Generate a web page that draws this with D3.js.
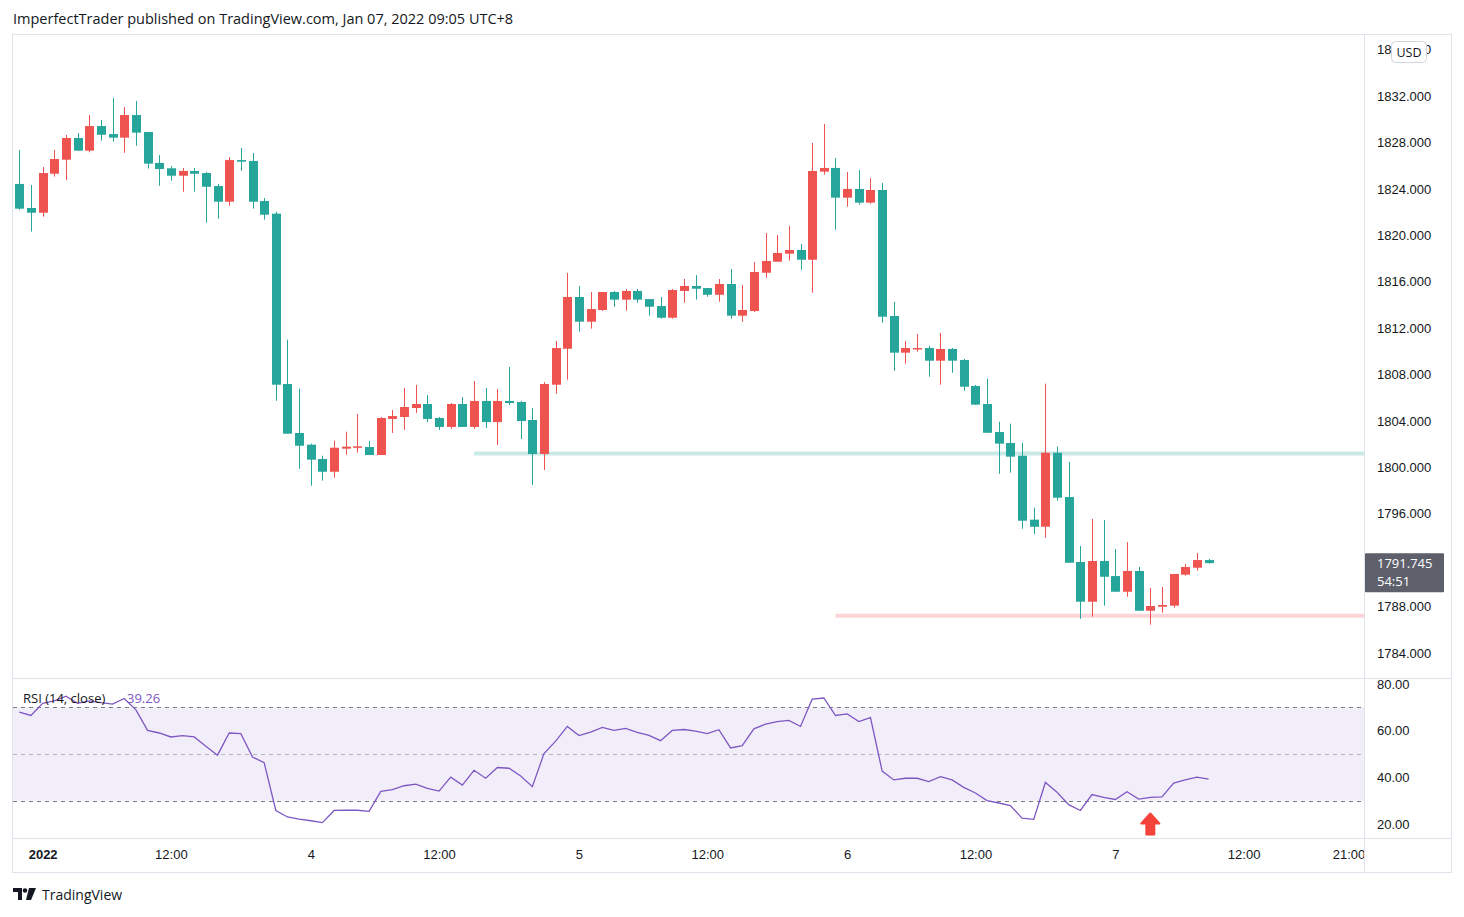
<!DOCTYPE html>
<html>
<head>
<meta charset="utf-8">
<script src="https://cdn.jsdelivr.net/npm/d3@7"></script>
<style>
  body { margin: 0; background: #fff; }
  svg { font-family: "Open Sans", Roboto, sans-serif; }
</style>
</head>
<body>
<svg class="chart"></svg>
<script>
// gold 1h candles, Jan 3 - Jan 7 2022 (UTC+8). red = up, teal = down (colours swapped like the original)
var open = [1824.42,1822.35,1821.94,1825.30,1826.51,1828.38,1827.29,1829.41,1828.72,1828.41,
  1830.36,1828.90,1826.23,1825.77,1825.13,1825.54,1825.36,1824.24,1822.89,1826.48,
  1826.40,1822.95,1821.86,1807.18,1802.96,1801.95,1800.72,1799.62,1801.61,1801.69,
  1801.75,1801.06,1804.17,1804.34,1805.11,1805.46,1804.25,1803.48,1805.46,1803.48,
  1805.72,1803.90,1805.72,1805.63,1804.08,1801.15,1807.12,1810.22,1814.68,1812.55,
  1813.56,1815.11,1814.45,1815.20,1814.50,1813.90,1812.89,1815.20,1815.63,1815.45,
  1814.87,1815.80,1813.07,1813.47,1816.77,1817.72,1818.41,1818.73,1817.89,1825.48,
  1825.80,1823.24,1823.99,1822.81,1823.90,1813.04,1809.88,1810.20,1810.28,1809.19,
  1810.20,1809.25,1807.01,1805.46,1803.04,1802.10,1801.00,1795.49,1794.88,1801.26,
  1797.44,1791.84,1788.42,1791.93,1790.63,1789.28,1791.07,1787.64,1787.99,1788.08,
  1790.75,1791.35,1792.01];
var high = [1827.35,1824.33,1825.88,1827.35,1828.64,1828.81,1830.36,1829.93,1831.83,1831.05,
  1831.57,1828.90,1826.92,1825.97,1825.80,1825.80,1825.45,1824.42,1826.74,1827.52,
  1827.08,1823.21,1822.03,1811.00,1806.78,1802.04,1801.00,1802.30,1803.07,1804.60,
  1802.27,1804.34,1804.94,1806.84,1807.10,1806.23,1804.34,1805.54,1806.06,1807.44,
  1806.84,1806.75,1808.65,1805.72,1805.11,1807.35,1810.89,1816.75,1815.63,1815.11,
  1815.11,1815.20,1815.37,1815.37,1814.50,1814.68,1815.37,1816.23,1816.57,1815.45,
  1816.23,1817.09,1815.71,1817.69,1820.19,1820.02,1820.80,1819.25,1827.95,1829.59,
  1826.66,1825.45,1825.62,1824.93,1824.50,1814.27,1810.89,1811.49,1810.46,1811.58,
  1810.28,1809.34,1807.10,1807.64,1803.93,1803.76,1802.12,1796.52,1807.21,1801.78,
  1800.46,1793.22,1795.55,1795.46,1792.96,1793.56,1791.41,1789.60,1789.69,1790.81,
  1791.67,1792.62,1792.10];
var low = [1822.20,1820.31,1821.60,1825.05,1824.76,1827.29,1827.15,1828.15,1828.06,1827.11,
  1827.72,1825.74,1824.27,1824.70,1823.75,1823.75,1821.08,1821.43,1822.55,1825.56,
  1822.29,1821.34,1805.74,1802.90,1799.88,1798.42,1798.85,1799.11,1801.09,1801.26,
  1801.06,1801.06,1802.96,1803.22,1804.68,1803.90,1803.22,1803.30,1803.48,1803.30,
  1803.39,1801.92,1805.37,1802.44,1798.48,1799.77,1806.34,1807.55,1811.69,1811.95,
  1813.47,1813.84,1813.50,1814.19,1813.07,1812.81,1812.81,1814.19,1814.45,1814.70,
  1814.27,1812.81,1812.55,1813.39,1816.34,1817.72,1817.81,1817.03,1815.05,1825.22,
  1820.48,1822.46,1822.63,1822.72,1812.46,1808.33,1808.93,1809.97,1807.81,1807.12,
  1808.15,1806.60,1805.40,1802.98,1799.45,1799.54,1794.71,1794.25,1793.94,1797.12,
  1791.78,1786.95,1787.13,1788.08,1789.28,1788.85,1787.64,1786.44,1787.47,1787.90,
  1790.66,1791.09,1791.70];
var close = [1822.29,1821.94,1825.36,1826.57,1828.38,1827.29,1829.41,1828.66,1828.41,1830.36,
  1828.84,1826.17,1825.71,1825.13,1825.54,1825.30,1824.18,1822.89,1826.48,1826.34,
  1822.89,1821.77,1807.12,1802.90,1801.86,1800.66,1799.62,1801.69,1801.78,1801.81,
  1801.06,1804.25,1804.42,1805.20,1805.46,1804.17,1803.48,1805.46,1803.48,1805.72,
  1803.90,1805.72,1805.54,1803.99,1801.15,1807.18,1810.28,1814.68,1812.55,1813.64,
  1815.11,1814.45,1815.20,1814.45,1813.84,1812.89,1815.28,1815.63,1815.39,1814.87,
  1815.80,1813.07,1813.56,1816.83,1817.78,1818.47,1818.73,1817.89,1825.54,1825.80,
  1823.24,1823.99,1822.81,1823.90,1812.98,1809.88,1810.28,1810.28,1809.19,1810.20,
  1809.19,1806.95,1805.40,1802.98,1802.04,1800.92,1795.40,1794.88,1801.26,1797.38,
  1791.78,1788.42,1791.93,1790.57,1789.28,1791.07,1787.64,1788.05,1788.14,1790.81,
  1791.41,1792.01,1791.745];
var rsi = [67.9,66.5,71.7,72.8,74.8,71.7,72.8,72.0,71.4,73.8,
  68.9,60.1,59.0,57.3,57.9,57.3,53.3,49.5,59.0,58.7,
  48.7,46.3,25.8,23.0,22.1,21.4,20.6,25.8,25.9,25.9,
  25.4,34.0,34.7,36.4,37.1,35.3,34.1,40.1,36.7,43.0,
  39.6,44.2,43.9,40.6,36.0,50.2,55.5,61.8,57.9,59.4,
  61.4,60.1,61.0,59.3,58.0,55.7,60.1,60.5,59.8,58.7,
  60.4,52.6,53.6,60.8,62.8,63.9,64.4,61.8,73.5,74.0,
  66.5,67.2,63.9,65.6,42.7,38.9,39.6,39.6,38.2,40.3,
  38.9,35.7,33.3,30.0,29.0,27.9,22.5,22.0,37.8,33.6,
  28.3,25.8,32.6,31.4,30.5,33.8,30.7,31.4,31.6,37.5,
  38.9,40.1,39.26];

var timeTicks = [2, 13, 25, 36, 48, 59, 71, 82, 94, 105, 114];
var timeLabels = ["2022", "12:00", "4", "12:00", "5", "12:00", "6", "12:00", "7", "12:00", "21:00"];
// 1792 sits under the last-price label, so it is left out
var priceTicks = [1784, 1788, 1796, 1800, 1804, 1808, 1812, 1816, 1820, 1824, 1828, 1832, 1836];
var rsiTicks = [20, 40, 60, 80];
var rsiLevels = [70, 50, 30];
var supportLevel = 1801.2, supportStart = 39;
var lowLevel = 1787.2, lowStart = 70;
var arrowBar = 97;

var width = 1464, height = 917;
var left = 13, right = 1364;
var mainTop = 35, mainBottom = 678, rsiBottom = 838;
var up = "#ef5350", down = "#26a69a", text = "#131722", grid = "#e0e3eb";

var svg = d3.select(".chart").attr("width", width).attr("height", height);

var x = d3.scaleLinear().domain([0, 102]).range([19.3, 19.3 + 102 * 11.66]);
var y = d3.scaleLinear().domain([1784, 1832]).range([653, 96]);
var ry = d3.scaleLinear().domain([20, 80]).range([824, 684]);

var defs = svg.append("defs");
defs.append("clipPath").attr("id", "clipMain").append("rect")
  .attr("x", left).attr("y", mainTop).attr("width", right - left).attr("height", mainBottom - mainTop);
defs.append("clipPath").attr("id", "clipRsi").append("rect")
  .attr("x", left).attr("y", mainBottom).attr("width", right - left).attr("height", rsiBottom - mainBottom);
defs.append("clipPath").attr("id", "clipTime").append("rect")
  .attr("x", left).attr("y", rsiBottom).attr("width", right - left).attr("height", 34);
// top price label shows only round the USD badge
var ct = defs.append("clipPath").attr("id", "clipTop");
ct.append("rect").attr("x", right).attr("y", 40).attr("width", 27).attr("height", 22);
ct.append("rect").attr("x", 1427).attr("y", 40).attr("width", 24).attr("height", 22);

// header
svg.append("text").attr("x", 13).attr("y", 24).attr("font-size", 14.5).attr("fill", text)
  .text("ImperfectTrader published on TradingView.com, Jan 07, 2022 09:05 UTC+8");

// frame
svg.append("rect").attr("x", 12.5).attr("y", 34.5).attr("width", 1439).attr("height", 838)
  .attr("fill", "none").attr("stroke", grid);
svg.append("line").attr("x1", right + 0.5).attr("x2", right + 0.5).attr("y1", 34).attr("y2", 872).attr("stroke", grid);
svg.append("line").attr("x1", 12).attr("x2", 1451).attr("y1", mainBottom + 0.5).attr("y2", mainBottom + 0.5).attr("stroke", grid);
svg.append("line").attr("x1", 12).attr("x2", 1451).attr("y1", rsiBottom + 0.5).attr("y2", rsiBottom + 0.5).attr("stroke", grid);

// main pane
var main = svg.append("g").attr("clip-path", "url(#clipMain)");

main.append("line")
  .attr("x1", x(supportStart)).attr("x2", right)
  .attr("y1", y(supportLevel)).attr("y2", y(supportLevel))
  .attr("stroke", "#26a69a").attr("stroke-opacity", 0.25).attr("stroke-width", 4);
main.append("line")
  .attr("x1", x(lowStart)).attr("x2", right)
  .attr("y1", y(lowLevel)).attr("y2", y(lowLevel))
  .attr("stroke", "#f7525f").attr("stroke-opacity", 0.25).attr("stroke-width", 4);

var candles = main.selectAll(".candle").data(open).enter().append("g").attr("class", "candle");
candles.append("line")
  .attr("x1", function(d, i) { return Math.round(x(i)) + 0.5; })
  .attr("x2", function(d, i) { return Math.round(x(i)) + 0.5; })
  .attr("y1", function(d, i) { return y(high[i]); })
  .attr("y2", function(d, i) { return y(low[i]); })
  .attr("stroke", function(d, i) { return close[i] >= open[i] ? up : down; })
  .attr("stroke-width", 1);
candles.append("rect")
  .attr("x", function(d, i) { return Math.round(x(i)) - 4; })
  .attr("width", 9)
  .attr("y", function(d, i) { return y(Math.max(open[i], close[i])); })
  .attr("height", function(d, i) { return Math.max(1.5, Math.abs(y(open[i]) - y(close[i]))); })
  .attr("fill", function(d, i) { return close[i] >= open[i] ? up : down; });

// price axis
var pAxis = svg.append("g").attr("transform", "translate(" + right + ",0)")
  .call(d3.axisRight(y).tickValues(priceTicks.slice(0, -1)).tickFormat(d3.format(".3f")).tickSize(0).tickPadding(13));
pAxis.select(".domain").remove();
pAxis.selectAll("text").attr("font-size", 13).attr("fill", text);

var topAxis = svg.append("g").attr("clip-path", "url(#clipTop)").append("g")
  .attr("transform", "translate(" + right + ",0)")
  .call(d3.axisRight(y).tickValues(priceTicks.slice(-1)).tickFormat(d3.format(".3f")).tickSize(0).tickPadding(13));
topAxis.select(".domain").remove();
topAxis.selectAll("text").attr("font-size", 13).attr("fill", text);

svg.append("rect").attr("x", 1391.5).attr("y", 41.5).attr("width", 35).attr("height", 21).attr("rx", 4)
  .attr("fill", "#fff").attr("stroke", "#d1d4dc");
svg.append("text").attr("x", 1409).attr("y", 57).attr("text-anchor", "middle")
  .attr("font-size", 12.5).attr("fill", text).text("USD");

// last price label
var lastY = y(close[close.length - 1]);
svg.append("rect").attr("x", right + 1).attr("y", lastY - 10).attr("width", 79).attr("height", 39)
  .attr("fill", "#5d606b").attr("rx", 1);
svg.append("text").attr("x", right + 13).attr("y", lastY + 5).attr("font-size", 13).attr("fill", "#fff")
  .text(d3.format(".3f")(close[close.length - 1]));
svg.append("text").attr("x", right + 13).attr("y", lastY + 23).attr("font-size", 13).attr("fill", "#fff")
  .text("54:51");

// RSI pane
var rp = svg.append("g").attr("clip-path", "url(#clipRsi)");
rp.append("rect").attr("x", left).attr("width", right - left)
  .attr("y", ry(70)).attr("height", ry(30) - ry(70))
  .attr("fill", "#7e57c2").attr("fill-opacity", 0.1);
rp.selectAll(".lvl").data(rsiLevels).enter().append("line")
  .attr("x1", left).attr("x2", right)
  .attr("y1", function(d) { return Math.round(ry(d)) + 0.5; })
  .attr("y2", function(d) { return Math.round(ry(d)) + 0.5; })
  .attr("stroke", "#787b86")
  .attr("stroke-opacity", function(d) { return d == 50 ? 0.5 : 1; })
  .attr("stroke-dasharray", "4,4");
rp.append("path").datum(rsi)
  .attr("d", d3.line().x(function(d, i) { return x(i); }).y(function(d) { return ry(d); }))
  .attr("fill", "none").attr("stroke", "#7e57c2").attr("stroke-width", 1.3);

// arrow
var ax = x(arrowBar), at = ry(24.5);
rp.append("path")
  .attr("d", "M" + ax + "," + at + " l9,10 l-5,0 l0,11 l-8,0 l0,-11 l-5,0 z")
  .attr("fill", "#f4433a").attr("stroke", "#f4433a").attr("stroke-width", 2).attr("stroke-linejoin", "round");

svg.append("text").attr("x", 23).attr("y", 703).attr("font-size", 13).attr("fill", text)
  .text("RSI (14, close)");
svg.append("text").attr("x", 127).attr("y", 703).attr("font-size", 13).attr("fill", "#7e57c2")
  .text(d3.format(".2f")(rsi[rsi.length - 1]));

var rAxis = svg.append("g").attr("transform", "translate(" + right + ",0)")
  .call(d3.axisRight(ry).tickValues(rsiTicks).tickFormat(d3.format(".2f")).tickSize(0).tickPadding(13));
rAxis.select(".domain").remove();
rAxis.selectAll("text").attr("font-size", 13).attr("fill", text);

// time axis
var tAxis = svg.append("g").attr("clip-path", "url(#clipTime)").append("g")
  .attr("transform", "translate(0," + rsiBottom + ")")
  .call(d3.axisBottom(x).tickValues(timeTicks).tickFormat(function(d, i) { return timeLabels[i]; })
    .tickSize(0).tickPadding(12));
tAxis.select(".domain").remove();
tAxis.selectAll("text").attr("font-size", 13).attr("fill", text)
  .attr("font-weight", function(d, i) { return i == 0 ? "bold" : "normal"; });

// footer
var logo = svg.append("g").attr("fill", text);
logo.append("path").attr("d", "M13,888 h9 v12 h-4 v-8 h-5 z");
logo.append("circle").attr("cx", 25).attr("cy", 890.5).attr("r", 2.3);
logo.append("path").attr("d", "M29,888 h7 l-5,12 h-5 z");
svg.append("text").attr("x", 42).attr("y", 900).attr("font-size", 14).attr("fill", text).text("TradingView");
</script>
</body>
</html>
